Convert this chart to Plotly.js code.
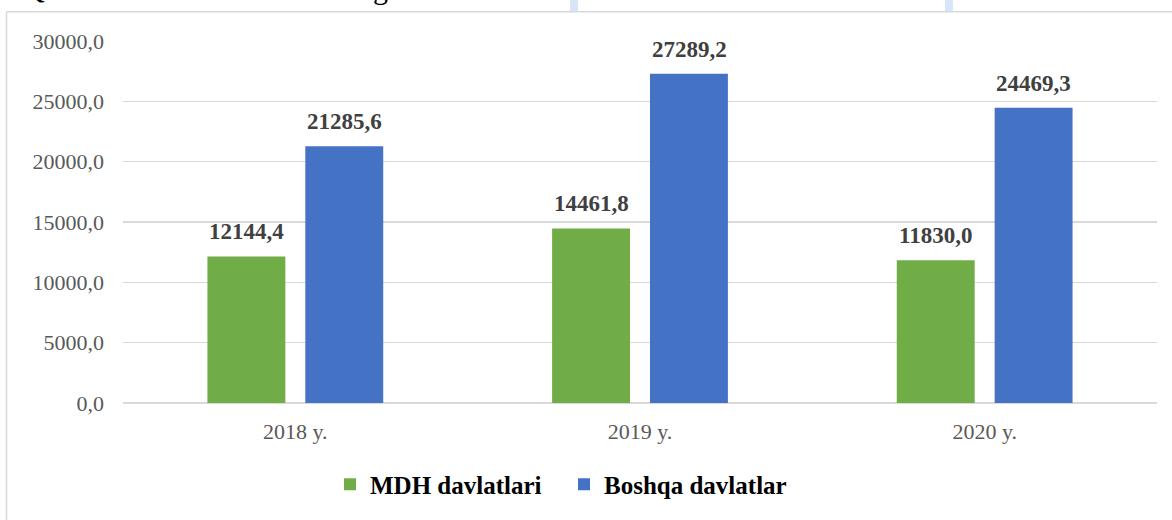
<!DOCTYPE html>
<html>
<head>
<meta charset="utf-8">
<script src="https://cdn.plot.ly/plotly-3.0.1.min.js"></script>
<style>html,body{margin:0;padding:0;background:#fff;}#chart{width:1172px;height:520px;}</style>
</head>
<body>
<div id="chart"></div>
<script>
const categories = ['2018 y.', '2019 y.', '2020 y.'];
const seriesNames = ['MDH davlatlari', 'Boshqa davlatlar'];
const mdhValues = [12144.4, 14461.8, 11830.0];
const boshqaValues = [21285.6, 27289.2, 24469.3];
const yTickValues = [0, 5000, 10000, 15000, 20000, 25000, 30000];

const GREEN = '#70AD47', BLUE = '#4472C4';
const SERIF = 'Liberation Serif';

const fmt = v => v.toFixed(1).replace('.', ',');

const traces = [
  {type: 'bar', name: seriesNames[0], x: categories, y: mdhValues,
   marker: {color: GREEN}, hoverinfo: 'skip'},
  {type: 'bar', name: seriesNames[1], x: categories, y: boshqaValues,
   marker: {color: BLUE}, hoverinfo: 'skip'}
];

const annotations = [];
[[mdhValues, -49], [boshqaValues, 49]].forEach(([vals, dx]) => {
  vals.forEach((v, i) => {
    annotations.push({
      x: categories[i], y: v, xref: 'x', yref: 'y', text: fmt(v),
      showarrow: false, xanchor: 'center', yanchor: 'bottom',
      xshift: dx, yshift: 10,
      font: {family: SERIF, size: 23, color: '#404040', weight: 'bold'}
    });
  });
});
// cut-off glyphs of the page heading above the chart frame
annotations.push({xref: 'paper', yref: 'paper', x: -0.086, y: 1.0948, yshift: 1, text: 'Q',
  showarrow: false, xanchor: 'center', yanchor: 'bottom',
  font: {family: SERIF, size: 30, color: '#000'}});
annotations.push({xref: 'paper', yref: 'paper', x: 0.2495, y: 1.0948, text: 'g',
  showarrow: false, xanchor: 'center', yanchor: 'bottom',
  font: {family: SERIF, size: 30, color: '#000'}});

const px2x = p => (p - 123) / 1034;
const px2y = p => (405 - p) / 364;

const shapes = [
  {type: 'line', xref: 'paper', yref: 'paper', x0: px2x(6.5), x1: px2x(6.5), y0: px2y(11.5), y1: px2y(540),
   line: {color: '#D9D9D9', width: 1.5}},
  {type: 'line', xref: 'paper', yref: 'paper', x0: px2x(6.5), x1: px2x(1200), y0: px2y(11.5), y1: px2y(11.5),
   line: {color: '#D9D9D9', width: 1.5}},
  {type: 'rect', xref: 'paper', yref: 'paper', x0: px2x(570), x1: px2x(578), y0: px2y(11), y1: px2y(-2),
   fillcolor: '#D6E6F8', line: {width: 0}},
  {type: 'rect', xref: 'paper', yref: 'paper', x0: px2x(945), x1: px2x(953), y0: px2y(11), y1: px2y(-2),
   fillcolor: '#D6E6F8', line: {width: 0}}
];

const layout = {
  width: 1172, height: 520,
  font: {family: SERIF},
  margin: {l: 123, r: 15, t: 41, b: 115, pad: 0},
  paper_bgcolor: '#ffffff', plot_bgcolor: '#ffffff',
  separators: ', ',
  barmode: 'group', bargap: 0.432, bargroupgap: 0.204,
  showlegend: true,
  legend: {orientation: 'h', x: px2x(330), xanchor: 'left', y: px2y(487), yanchor: 'middle',
    font: {family: SERIF, size: 25, color: '#000', weight: 'bold'},
    entrywidth: 189},
  xaxis: {type: 'category', tickfont: {family: SERIF, size: 22, color: '#595959'},
    showgrid: false, showline: false, zeroline: false, ticks: '', ticklabelstandoff: 13},
  yaxis: {range: [0, 30000], tickvals: yTickValues, tickformat: '.1f',
    tickfont: {family: SERIF, size: 22, color: '#595959'},
    showgrid: true, gridcolor: '#D9D9D9', gridwidth: 1.5,
    zeroline: true, zerolinecolor: '#D9D9D9', zerolinewidth: 1.5,
    showline: false, ticks: '', ticklabelstandoff: 18},
  annotations: annotations,
  shapes: shapes
};

Plotly.newPlot('chart', traces, layout, {displayModeBar: false, staticPlot: true});
</script>
</body>
</html>
